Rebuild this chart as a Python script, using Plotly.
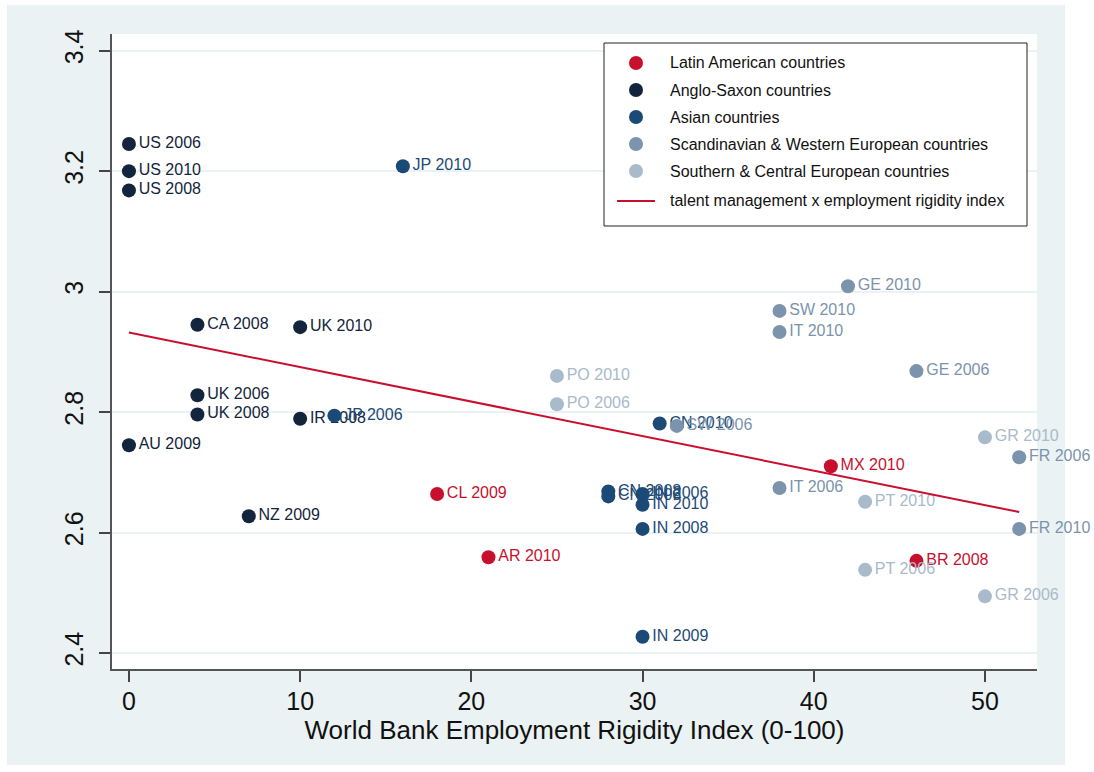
import plotly.graph_objects as go

# Country-year observations, grouped by region
latin_x = [18, 21, 41, 46]
latin_y = [2.664, 2.559, 2.710, 2.553]
latin_lab = ["CL 2009", "AR 2010", "MX 2010", "BR 2008"]

anglo_x = [0, 0, 0, 4, 10, 4, 4, 10, 0, 7]
anglo_y = [3.245, 3.200, 3.168, 2.945, 2.941, 2.828, 2.796, 2.789, 2.745, 2.627]
anglo_lab = ["US 2006", "US 2010", "US 2008", "CA 2008", "UK 2010",
             "UK 2006", "UK 2008", "IR 2008", "AU 2009", "NZ 2009"]

asian_x = [16, 12, 31, 28, 28, 30, 30, 30, 30]
asian_y = [3.208, 2.794, 2.781, 2.668, 2.660, 2.664, 2.646, 2.606, 2.427]
asian_lab = ["JP 2010", "JP 2006", "CN 2010", "CN 2008", "CN 2006",
             "IN 2006", "IN 2010", "IN 2008", "IN 2009"]

scand_x = [42, 38, 38, 46, 32, 52, 38, 52]
scand_y = [3.009, 2.968, 2.933, 2.868, 2.777, 2.725, 2.674, 2.606]
scand_lab = ["GE 2010", "SW 2010", "IT 2010", "GE 2006", "SW 2006",
             "FR 2006", "IT 2006", "FR 2010"]

south_x = [25, 25, 50, 43, 43, 50]
south_y = [2.860, 2.813, 2.758, 2.651, 2.538, 2.494]
south_lab = ["PO 2010", "PO 2006", "GR 2010", "PT 2010", "PT 2006", "GR 2006"]

# Linear fit: talent management vs employment rigidity
fit_x = [0, 52]
fit_y = [2.932, 2.634]
fit_name = "talent management x employment rigidity index"

x_ticks = [0, 10, 20, 30, 40, 50]
y_ticks = [2.4, 2.6, 2.8, 3.0, 3.2, 3.4]
y_tick_text = ["2.4", "2.6", "2.8", "3", "3.2", "3.4"]

FONT = "Liberation Sans, Arial, sans-serif"
BG = "#eaf2f3"
RED = "#c8102e"

groups = [
    ("Latin American countries", latin_x, latin_y, latin_lab, RED),
    ("Anglo-Saxon countries", anglo_x, anglo_y, anglo_lab, "#13253c"),
    ("Asian countries", asian_x, asian_y, asian_lab, "#1c4a76"),
    ("Scandinavian & Western European countries", scand_x, scand_y, scand_lab, "#7b93ac"),
    ("Southern & Central European countries", south_x, south_y, south_lab, "#a9bacb"),
]

W, H = 1094, 772
ML, MR, MT, MB = 112, 57, 34, 103
PW, PH = W - ML - MR, H - MT - MB


def px_x(p):
    """Pixel column -> paper x."""
    return (p - ML) / PW


def px_y(p):
    """Pixel row -> paper y."""
    return (H - MB - p) / PH


fig = go.Figure()
for name, xs, ys, labs, col in groups:
    fig.add_trace(go.Scatter(
        x=xs, y=ys, text=labs, name=name,
        mode="markers+text", textposition="middle right",
        marker=dict(size=14, color=col),
        textfont=dict(family=FONT, size=16, color=col),
        cliponaxis=False, showlegend=False,
    ))

fig.add_trace(go.Scatter(
    x=fit_x, y=fit_y, mode="lines", name=fit_name,
    line=dict(color=RED, width=2), showlegend=False,
))

shapes = [
    # outer graph region
    dict(type="rect", xref="paper", yref="paper", layer="below",
         x0=px_x(7), x1=px_x(1065), y0=px_y(765), y1=px_y(5),
         fillcolor=BG, line=dict(width=0)),
    # plot region
    dict(type="rect", xref="paper", yref="paper", layer="below",
         x0=0, x1=1, y0=0, y1=1,
         fillcolor="white", line=dict(width=0)),
    # key box
    dict(type="rect", xref="paper", yref="paper", layer="above",
         x0=px_x(604), x1=px_x(1027), y0=px_y(226), y1=px_y(43),
         fillcolor="white", line=dict(color="#222222", width=1)),
]
annotations = []

# key entries: region markers
row_y = [63, 90, 117, 144, 171]
for (name, _, _, _, col), ry in zip(groups, row_y):
    shapes.append(dict(
        type="circle", xref="paper", yref="paper", layer="above",
        xsizemode="pixel", ysizemode="pixel",
        xanchor=px_x(636), yanchor=px_y(ry),
        x0=-7, x1=7, y0=-7, y1=7,
        fillcolor=col, line=dict(width=0),
    ))
    annotations.append(dict(
        text=name, xref="paper", yref="paper",
        x=px_x(668), y=px_y(ry), xanchor="left", yanchor="middle",
        showarrow=False, font=dict(family=FONT, size=16, color="#111111"),
    ))

# key entry: fit line
shapes.append(dict(
    type="line", xref="paper", yref="paper", layer="above",
    x0=px_x(617), x1=px_x(655), y0=px_y(201), y1=px_y(201),
    line=dict(color=RED, width=2),
))
annotations.append(dict(
    text=fit_name, xref="paper", yref="paper",
    x=px_x(668), y=px_y(201), xanchor="left", yanchor="middle",
    showarrow=False, font=dict(family=FONT, size=16, color="#111111"),
))

fig.update_layout(
    width=W, height=H,
    margin=dict(l=ML, r=MR, t=MT, b=MB, pad=0),
    paper_bgcolor="white", plot_bgcolor="white",
    font=dict(family=FONT, color="#111111"),
    showlegend=False,
    xaxis=dict(
        range=[-0.99, 53.04], tickvals=x_ticks,
        ticks="outside", ticklen=11, tickwidth=1.5, tickcolor="#444444",
        showline=True, linecolor="#555555", linewidth=2,
        showgrid=False, zeroline=False,
        tickfont=dict(family=FONT, size=25, color="#111111"),
        ticklabelstandoff=-2,
        title=dict(text="World Bank Employment Rigidity Index (0-100)",
                   font=dict(family=FONT, size=26, color="#111111"),
                   standoff=0),
    ),
    yaxis=dict(
        range=[2.3734, 3.4277], tickvals=y_ticks, ticktext=y_tick_text,
        tickangle=-90,
        ticks="outside", ticklen=11, tickwidth=1.5, tickcolor="#444444",
        showline=True, linecolor="#555555", linewidth=2,
        showgrid=True, gridcolor=BG, gridwidth=2, zeroline=False,
        tickfont=dict(family=FONT, size=25, color="#111111"),
        ticklabelstandoff=6,
    ),
    shapes=shapes,
    annotations=annotations,
)

fig.write_html("out.html")
